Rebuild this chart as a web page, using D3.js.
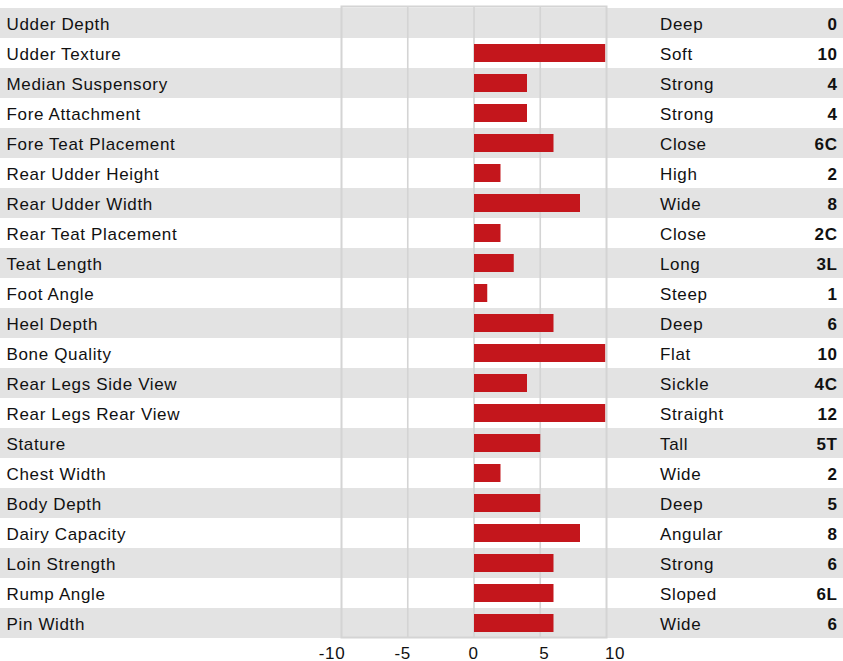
<!DOCTYPE html>
<html>
<head>
<meta charset="utf-8">
<script src="https://cdn.jsdelivr.net/npm/d3@7"></script>
<style>
  body { margin: 0; background: #fff; }
  text { font-family: "Liberation Sans", Arial, Helvetica, sans-serif; letter-spacing: 0.65px; }
</style>
</head>
<body>
<svg id="chart" width="843" height="661"></svg>
<script>
// traits, descriptions, scores and codes as printed
var traits = ["Udder Depth", "Udder Texture", "Median Suspensory", "Fore Attachment",
  "Fore Teat Placement", "Rear Udder Height", "Rear Udder Width", "Rear Teat Placement",
  "Teat Length", "Foot Angle", "Heel Depth", "Bone Quality", "Rear Legs Side View",
  "Rear Legs Rear View", "Stature", "Chest Width", "Body Depth", "Dairy Capacity",
  "Loin Strength", "Rump Angle", "Pin Width"];
var descriptions = ["Deep", "Soft", "Strong", "Strong", "Close", "High", "Wide", "Close",
  "Long", "Steep", "Deep", "Flat", "Sickle", "Straight", "Tall", "Wide", "Deep",
  "Angular", "Strong", "Sloped", "Wide"];
var scores = [0, 10, 4, 4, 6, 2, 8, 2, 3, 1, 6, 10, 4, 12, 5, 2, 5, 8, 6, 6, 6];
var codes = ["0", "10", "4", "4", "6C", "2", "8", "2C", "3L", "1", "6", "10", "4C",
  "12", "5T", "2", "5", "8", "6", "6L", "6"];
var ticks = [-10, -5, 0, 5, 10];

var svg = d3.select("#chart");
var W = 843;

var x = d3.scaleLinear().domain([-10, 10]).range([341.5, 606.5]);
// tick labels sit a bit wider than the box
var xLab = d3.scaleLinear().domain([-10, 10]).range([332, 615]);
var y = d3.scaleBand().domain(traits).range([8, 638]);

var rows = svg.append("g").selectAll("g")
  .data(traits)
  .join("g")
  .attr("transform", d => "translate(0," + y(d) + ")");

rows.append("rect")
  .attr("x", 0).attr("width", W)
  .attr("height", y.bandwidth())
  .attr("fill", (d, i) => i % 2 === 0 ? "#e3e3e3" : "#fff");

// grid
svg.append("g").selectAll("line")
  .data(ticks.slice(1, -1))
  .join("line")
  .attr("x1", d => x(d)).attr("x2", d => x(d))
  .attr("y1", 6.5).attr("y2", 637.5)
  .attr("stroke", "#d4d4d4").attr("stroke-width", 1.6);

svg.append("rect")
  .attr("x", x(-10)).attr("y", 6.5)
  .attr("width", x(10) - x(-10)).attr("height", 631)
  .attr("fill", "none")
  .attr("stroke", "#d4d4d4").attr("stroke-width", 2);

// bars, capped at the axis maximum
svg.append("g").selectAll("rect")
  .data(scores)
  .join("rect")
  .attr("x", x(0))
  .attr("y", (d, i) => y(traits[i]) + 6)
  .attr("height", 18)
  .attr("width", d => x(Math.min(d, 9.9)) - x(0))
  .attr("fill", "#c4161c");

rows.append("text")
  .attr("x", 6.5).attr("y", 22.2)
  .attr("font-size", 17).attr("fill", "#111")
  .text(d => d);

rows.append("text")
  .attr("x", 660).attr("y", 22.2)
  .attr("font-size", 17).attr("fill", "#111")
  .text((d, i) => descriptions[i]);

rows.append("text")
  .attr("x", 837.6).attr("y", 22.2)
  .attr("text-anchor", "end")
  .attr("font-size", 17).attr("font-weight", "bold").attr("fill", "#111")
  .text((d, i) => codes[i]);

svg.append("g").selectAll("text")
  .data(ticks)
  .join("text")
  .attr("x", d => xLab(d)).attr("y", 659)
  .attr("text-anchor", "middle")
  .attr("font-size", 17).attr("fill", "#111")
  .text(d => d);
</script>
</body>
</html>
